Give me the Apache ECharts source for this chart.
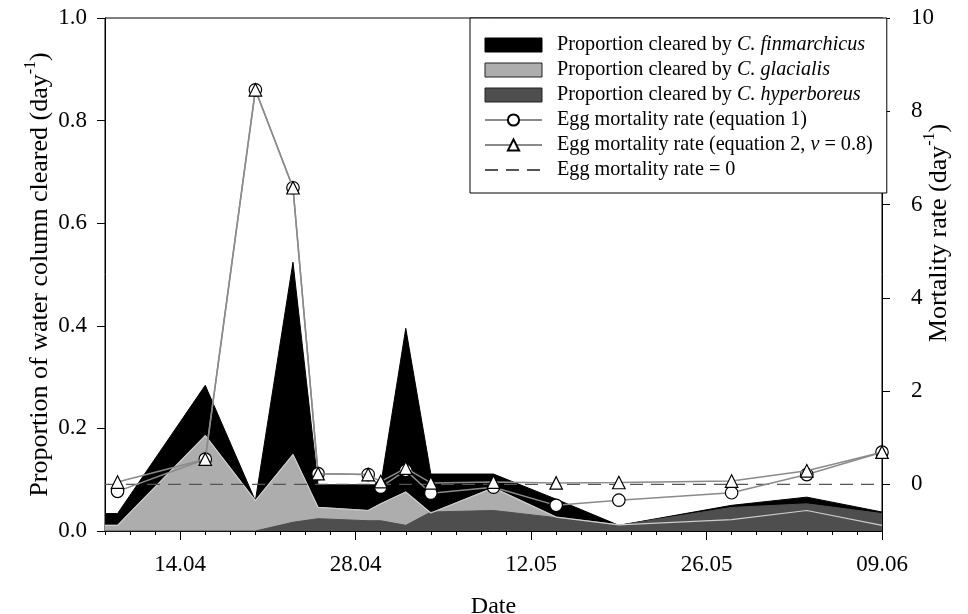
<!DOCTYPE html>
<html><head><meta charset="utf-8">
<script src="https://cdn.jsdelivr.net/npm/echarts@6/dist/echarts.min.js"></script>
<style>html,body{margin:0;padding:0;background:#fff}#c{width:968px;height:614px}</style>
</head><body><div id="c"></div>
<script>
// ---- data ----
const areaDates = ['08.04','09.04','16.04','20.04','23.04','25.04','29.04','30.04','02.05','04.05','09.05','14.05','19.05','28.05','03.06','09.06'];
const finmarchicus = [0.034,0.034,0.284,0.059,0.524,0.090,0.090,0.090,0.395,0.111,0.111,0.062,0.011,0.050,0.066,0.037];
const glacialis    = [0.011,0.011,0.186,0.059,0.149,0.046,0.040,0.053,0.076,0.035,0.084,0.027,0.012,0.022,0.040,0.011];
const hyperboreus  = [0,0,0,0,0.017,0.024,0.020,0.020,0.011,0.037,0.040,0.026,0.011,0.046,0.053,0.034];
const mortDates = ['09.04','16.04','20.04','23.04','25.04','29.04','30.04','02.05','04.05','09.05','14.05','19.05','28.05','03.06','09.06'];
const mortalityEq1 = [-0.15,0.54,8.46,6.36,0.23,0.21,-0.06,0.30,-0.19,-0.06,-0.45,-0.34,-0.18,0.21,0.69];
const mortalityEq2 = [0.05,0.54,8.46,6.36,0.23,0.21,0.06,0.35,0.03,0.05,0.03,0.04,0.07,0.29,0.69];
const zeroRate = 0;
const xStart = '08.04', xEnd = '09.06';
const dateTicks = ['14.04','28.04','12.05','26.05','09.06'];
const leftTicks = [0, 0.2, 0.4, 0.6, 0.8, 1.0];
const rightTicks = [0, 2, 4, 6, 8, 10];
const rightMin = -1, rightMax = 10;

const names = {
  fin: 'Proportion cleared by C. finmarchicus',
  gla: 'Proportion cleared by C. glacialis',
  hyp: 'Proportion cleared by C. hyperboreus',
  e1: 'Egg mortality rate (equation 1)',
  e2: 'Egg mortality rate (equation 2, v = 0.8)',
  z: 'Egg mortality rate = 0'
};

// ---- helpers ----
const base = Date.UTC(2008, 3, 8);
function dayNum(s) { const [d, m] = s.split('.').map(Number); return (Date.UTC(2008, m - 1, d) - base) / 86400000; }
function dayLabel(v) { const dt = new Date(base + v * 86400000); return String(dt.getUTCDate()).padStart(2,'0') + '.' + String(dt.getUTCMonth()+1).padStart(2,'0'); }
const x0 = dayNum(xStart), x1 = dayNum(xEnd);
const minorTicks = []; for (let v = x0; v <= x1; v += 2) minorTicks.push(v);
const majorTicks = dateTicks.map(dayNum);
const pair = (dates, vals) => dates.map((d, i) => [dayNum(d), vals[i]]);

const FONT = 'Liberation Serif';
const C_DARK = '#4e4e4e', C_LIGHT = '#adadad';
const TICK_FS = 23, TITLE_FS = 26, LEG_FS = 20.2;

const titleRich = {
  n: { fontFamily: FONT, fontSize: TITLE_FS, color: '#000', lineHeight: 30, verticalAlign: 'bottom' },
  s: { fontFamily: FONT, fontSize: 16, color: '#000', lineHeight: 30, verticalAlign: 'top' }
};

const chart = echarts.init(document.getElementById('c'));
chart.setOption({
  animation: false,
  backgroundColor: '#fff',
  grid: { left: 105, right: 86, top: 18, bottom: 83, containLabel: false, outerBoundsMode: 'none',
          show: true, borderColor: '#000', borderWidth: 1, backgroundColor: 'transparent' },
  legend: {
    orient: 'vertical', left: 470, top: 18, z: 20,
    padding: [17, 14, 13, 14],
    itemWidth: 57, itemHeight: 14, itemGap: 5,
    backgroundColor: '#fff', borderColor: '#000', borderWidth: 1, borderRadius: 0,
    data: [
      { name: names.fin, icon: 'rect', itemStyle: { color: '#000', borderColor: '#000', borderWidth: 1 } },
      { name: names.gla, icon: 'rect', itemStyle: { color: C_LIGHT, borderColor: '#222', borderWidth: 1 } },
      { name: names.hyp, icon: 'rect', itemStyle: { color: C_DARK, borderColor: '#222', borderWidth: 1 } },
      { name: names.e1 }, { name: names.e2 }, { name: names.z, itemStyle: { opacity: 0 } }
    ],
    formatter: function (n) {
      if (n === names.fin) return '{n|Proportion cleared by }{i|C. finmarchicus}';
      if (n === names.gla) return '{n|Proportion cleared by }{i|C. glacialis}';
      if (n === names.hyp) return '{n|Proportion cleared by }{i|C. hyperboreus}';
      if (n === names.e2) return '{n|Egg mortality rate (equation 2, }{i|v}{n| = 0.8)}';
      return '{n|' + n + '}';
    },
    textStyle: {
      padding: [0, 0, 0, 10],
      rich: {
        n: { fontFamily: FONT, fontSize: LEG_FS, color: '#000', lineHeight: 21 },
        i: { fontFamily: FONT, fontSize: LEG_FS, color: '#000', fontStyle: 'italic', lineHeight: 21 }
      }
    }
  },
  xAxis: [{
    type: 'value', min: x0, max: x1, position: 'bottom', offset: 0,
    name: 'Date', nameLocation: 'middle', nameGap: 64,
    nameTextStyle: { fontFamily: FONT, fontSize: 24, color: '#000' },
    axisLine: { show: true, onZero: false, lineStyle: { color: '#000', width: 1 } },
    axisTick: { show: true, customValues: minorTicks, length: 4, lineStyle: { color: '#000' } },
    axisLabel: { customValues: majorTicks, formatter: v => dayLabel(v), fontFamily: FONT, fontSize: TICK_FS, color: '#000', margin: 22 },
    splitLine: { show: false }
  }, {
    type: 'value', min: x0, max: x1, position: 'bottom', offset: 0,
    axisLine: { show: false, onZero: false },
    axisTick: { show: true, customValues: majorTicks, length: 9, lineStyle: { color: '#000' } },
    axisLabel: { show: false },
    splitLine: { show: false }
  }],
  yAxis: [{
    type: 'value', min: 0, max: 1, position: 'left',
    name: '{n|Proportion of water column cleared (day}{s|-1}{n|)}',
    nameLocation: 'middle', nameGap: 52, nameRotate: 90, nameMoveOverlap: false,
    nameTextStyle: { rich: titleRich },
    axisLine: { show: true, onZero: false, lineStyle: { color: '#000', width: 1 } },
    axisTick: { show: true, customValues: leftTicks, length: 8, lineStyle: { color: '#000' } },
    axisLabel: { customValues: leftTicks, formatter: v => v.toFixed(1), fontFamily: FONT, fontSize: TICK_FS, color: '#000', margin: 18 },
    splitLine: { show: false }
  }, {
    type: 'value', min: rightMin, max: rightMax, position: 'right',
    name: '{n|Mortality rate (day}{s|-1}{n|)}',
    nameLocation: 'middle', nameGap: 40, nameRotate: 90, nameMoveOverlap: false,
    nameTextStyle: { padding: [0, 0, 0, 83], rich: titleRich },
    axisLine: { show: true, onZero: false, lineStyle: { color: '#000', width: 1 } },
    axisTick: { show: true, customValues: rightTicks, length: 8, lineStyle: { color: '#000' } },
    axisLabel: { customValues: rightTicks, fontFamily: FONT, fontSize: TICK_FS, color: '#000', margin: 29 },
    splitLine: { show: false }
  }],
  series: [
    { name: names.fin, type: 'line', z: 1, yAxisIndex: 0, symbol: 'none', data: pair(areaDates, finmarchicus),
      itemStyle: { color: '#000' }, lineStyle: { color: '#000', width: 1 }, areaStyle: { color: '#000', opacity: 1 } },
    { name: names.gla, type: 'line', z: 2, yAxisIndex: 0, symbol: 'none', data: pair(areaDates, glacialis),
      itemStyle: { color: C_LIGHT }, lineStyle: { color: C_LIGHT, width: 1 }, areaStyle: { color: C_LIGHT, opacity: 1 } },
    { name: names.hyp, type: 'line', z: 3, yAxisIndex: 0, symbol: 'none', data: pair(areaDates, hyperboreus),
      itemStyle: { color: C_DARK }, lineStyle: { color: C_DARK, width: 1 }, areaStyle: { color: C_DARK, opacity: 1 } },
    { name: 'glacialis outline', type: 'line', z: 4, yAxisIndex: 0, symbol: 'none', silent: true, data: pair(areaDates, glacialis),
      lineStyle: { color: '#cdcdcd', width: 1.2 } },
    { name: names.z, type: 'line', z: 5, yAxisIndex: 1, symbol: 'none', data: [[x0, zeroRate], [x1, zeroRate]],
      itemStyle: { color: '#555' }, lineStyle: { color: '#555', width: 1.2, type: [13, 8] } },
    { name: names.e1, type: 'line', z: 6, yAxisIndex: 1, symbol: 'circle', symbolSize: 12.5, data: pair(mortDates, mortalityEq1),
      itemStyle: { color: '#fff', borderColor: '#000', borderWidth: 1.2 }, lineStyle: { color: '#8a8a8a', width: 1.5 } },
    { name: names.e2, type: 'line', z: 7, yAxisIndex: 1, symbol: 'triangle', symbolSize: 12.5, data: pair(mortDates, mortalityEq2),
      itemStyle: { color: '#fff', borderColor: '#000', borderWidth: 1.2 }, lineStyle: { color: '#8a8a8a', width: 1.5 } }
  ]
});
</script>
</body></html>
